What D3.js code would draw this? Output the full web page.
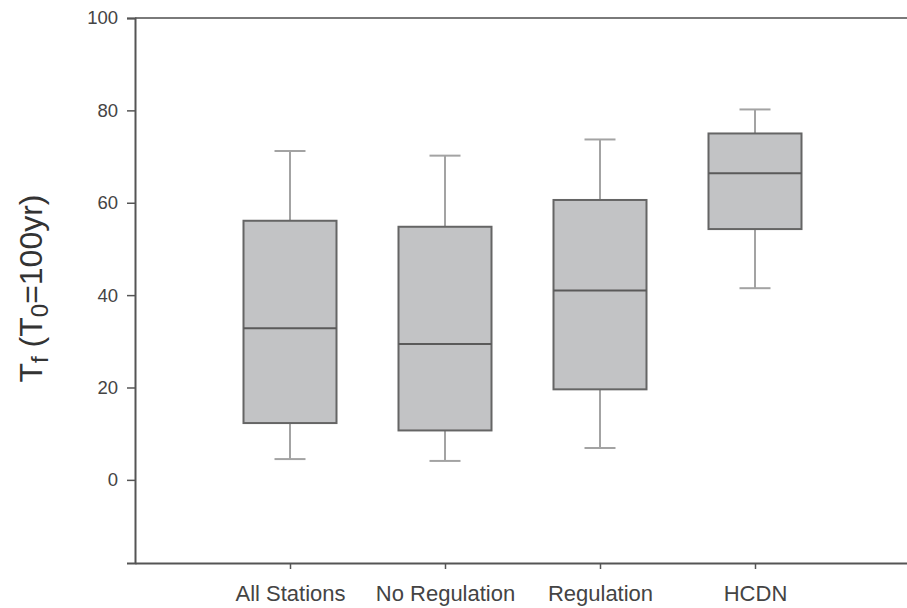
<!DOCTYPE html>
<html>
<head>
<meta charset="utf-8">
<script src="https://cdn.jsdelivr.net/npm/d3@7"></script>
<style>
  body { margin: 0; background: #fff; }
  svg { display: block; }
  .tick text { font-family: "Liberation Sans", Arial, sans-serif; fill: #444; }
</style>
</head>
<body>
<div id="chart"></div>
<script>
// box plot data
const categories = ['All Stations', 'No Regulation', 'Regulation', 'HCDN'];
const whiskerLow = [4.5, 4.1, 6.9, 41.5];
const q1 = [12.3, 10.7, 19.6, 54.3];
const median = [32.8, 29.4, 41.0, 66.4];
const q3 = [56.1, 54.8, 60.6, 75.0];
const whiskerHigh = [71.2, 70.2, 73.7, 80.2];
const yTicks = [0, 20, 40, 60, 80, 100];

const width = 907;
const height = 608;
const margin = { top: 18, right: -3, bottom: 45, left: 135 };

const svg = d3.select('#chart')
    .append('svg')
    .attr('width', width)
    .attr('height', height);

// categories sit at 1..4 on a 0..5 axis
const x = d3.scaleLinear()
    .domain([0, categories.length + 1])
    .range([margin.left, width - margin.right]);

const y = d3.scaleLinear()
    .domain([-18, 100])
    .range([height - margin.bottom, margin.top]);

const boxW = x(0.6) - x(0);
const capW = x(0.2) - x(0);

const data = categories.map((c, i) => ({
    label: c,
    pos: i + 1,
    lo: whiskerLow[i],
    q1: q1[i],
    med: median[i],
    q3: q3[i],
    hi: whiskerHigh[i],
}));

// top frame line
svg.append('line')
    .attr('x1', x(0)).attr('x2', x(categories.length + 1))
    .attr('y1', y(100)).attr('y2', y(100))
    .attr('stroke', '#7a7a7a')
    .attr('stroke-width', 2);

const g = svg.selectAll('g.box')
    .data(data)
    .enter()
    .append('g')
    .attr('class', 'box');

const whisker = '#a3a3a3';

// whiskers
g.append('line')
    .attr('x1', d => x(d.pos)).attr('x2', d => x(d.pos))
    .attr('y1', d => y(d.hi)).attr('y2', d => y(d.q3))
    .attr('stroke', whisker).attr('stroke-width', 2);
g.append('line')
    .attr('x1', d => x(d.pos)).attr('x2', d => x(d.pos))
    .attr('y1', d => y(d.q1)).attr('y2', d => y(d.lo))
    .attr('stroke', whisker).attr('stroke-width', 2);
g.append('line')
    .attr('x1', d => x(d.pos) - capW / 2).attr('x2', d => x(d.pos) + capW / 2)
    .attr('y1', d => y(d.hi)).attr('y2', d => y(d.hi))
    .attr('stroke', whisker).attr('stroke-width', 2);
g.append('line')
    .attr('x1', d => x(d.pos) - capW / 2).attr('x2', d => x(d.pos) + capW / 2)
    .attr('y1', d => y(d.lo)).attr('y2', d => y(d.lo))
    .attr('stroke', whisker).attr('stroke-width', 2);

// boxes
g.append('rect')
    .attr('x', d => x(d.pos) - boxW / 2)
    .attr('y', d => y(d.q3))
    .attr('width', boxW)
    .attr('height', d => y(d.q1) - y(d.q3))
    .attr('fill', '#c2c3c5')
    .attr('stroke', '#656565')
    .attr('stroke-width', 2);

g.append('line')
    .attr('x1', d => x(d.pos) - boxW / 2).attr('x2', d => x(d.pos) + boxW / 2)
    .attr('y1', d => y(d.med)).attr('y2', d => y(d.med))
    .attr('stroke', '#5a5a5a').attr('stroke-width', 2);

// y axis
svg.append('g')
    .attr('transform', `translate(${margin.left},0)`)
    .call(d3.axisLeft(y).tickValues(yTicks).tickSize(8).tickPadding(9))
    .call(a => a.select('.domain').attr('stroke', '#555').attr('stroke-width', 2))
    .call(a => a.selectAll('.tick line').attr('stroke', '#555').attr('stroke-width', 1.5))
    .call(a => a.selectAll('.tick text').attr('font-size', 18.5));

// x axis
svg.append('g')
    .attr('transform', `translate(0,${height - margin.bottom})`)
    .call(d3.axisBottom(x)
        .tickValues(data.map(d => d.pos))
        .tickFormat((d, i) => categories[i])
        .tickSize(6)
        .tickPadding(16)
        .tickSizeOuter(0))
    .call(a => a.select('.domain').attr('stroke', '#555').attr('stroke-width', 2))
    .call(a => a.selectAll('.tick line').attr('stroke', '#555').attr('stroke-width', 1.5))
    .call(a => a.selectAll('.tick text').attr('font-size', 22));

// y axis title with subscripts
const title = svg.append('text')
    .attr('transform', `translate(42,${(y(100) + y(-18)) / 2 - 2}) rotate(-90)`)
    .attr('text-anchor', 'middle')
    .attr('font-family', '"Liberation Sans", Arial, sans-serif')
    .attr('font-size', 32)
    .attr('fill', '#333');
title.append('tspan').text('T');
title.append('tspan').attr('font-size', 24).attr('dy', 6).text('f');
title.append('tspan').attr('dy', -6).text(' (T');
title.append('tspan').attr('font-size', 24).attr('dy', 6).text('0');
title.append('tspan').attr('dy', -6).text('=100yr)');
</script>
</body>
</html>
